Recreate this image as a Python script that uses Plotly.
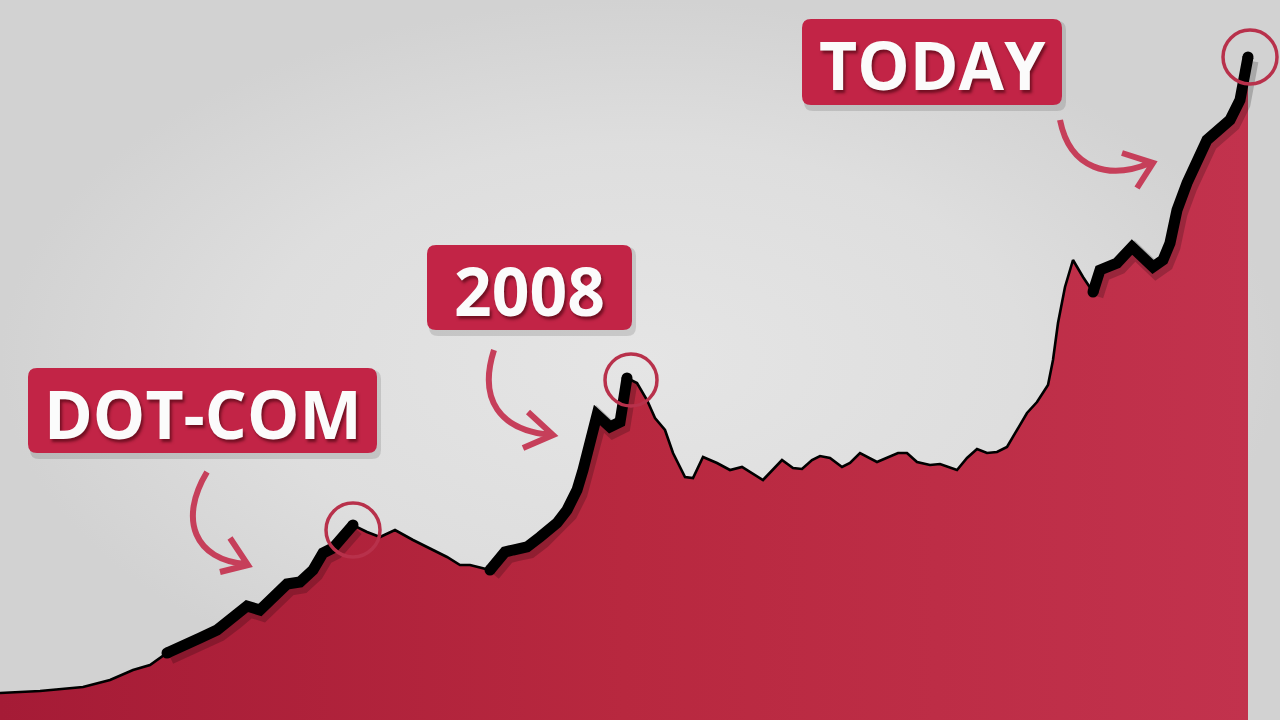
import plotly.graph_objects as go

# ---------------- data ----------------
# time index (horizontal position) and index level
time_idx = [0, 40, 83, 110, 133, 150, 167, 180, 200, 217, 233, 247, 260, 273, 287, 300,
            313, 323, 333, 353, 367, 380, 395, 413, 427, 447, 460, 470, 490, 505, 513,
            527, 540, 557, 567, 577, 583, 590, 597, 610, 620, 627, 637, 647, 655, 665,
            673, 685, 693, 703, 717, 730, 742, 763, 782, 793, 802, 812, 820, 830, 842,
            850, 860, 877, 898, 907, 917, 930, 940, 957, 967, 977, 987, 997, 1007, 1017,
            1027, 1037, 1048, 1053, 1058, 1065, 1073, 1083, 1093, 1100, 1117, 1132, 1153,
            1163, 1170, 1177, 1187, 1207, 1230, 1240, 1248]
index_level = [27, 29, 33, 40, 50, 55, 67, 72, 82, 90, 102, 114, 110, 123, 136, 138,
               150, 167, 172, 195, 188, 183, 190, 180, 173, 163, 155, 155, 150, 168, 170,
               173, 183, 197, 210, 230, 250, 283, 305, 293, 298, 342, 337, 320, 302, 290,
               267, 243, 242, 263, 257, 250, 253, 240, 260, 252, 251, 260, 264, 262, 253,
               257, 267, 258, 267, 267, 258, 255, 256, 250, 262, 271, 267, 268, 273, 290,
               307, 318, 335, 360, 397, 433, 460, 443, 428, 450, 457, 473, 453,
               460, 477, 510, 537, 580, 600, 620, 663]

# run-ups highlighted with a bold line (start, end on the time index)
bubble_runups = [(167, 353), (490, 627), (1093, 1248)]
bubble_labels = ["DOT-COM", "2008", "TODAY"]

# ---------------- styling ----------------
W, H = 1280, 720
BOX = "#c22446"
ARROW = "#c63f5a"
RING = "#b8314b"

fig = go.Figure()

# background (soft vignette)
fig.add_trace(go.Scatter(
    x=[0, W, W, 0, 0], y=[0, 0, H, H, 0], mode="lines", line=dict(width=0),
    fill="toself", fillgradient=dict(type="radial",
                                     colorscale=[[0, "#e5e5e5"], [0.6, "#dedede"], [1, "#d2d2d2"]]),
    hoverinfo="skip"))

# area + thin line
fig.add_trace(go.Scatter(
    x=time_idx, y=index_level, mode="lines",
    line=dict(color="black", width=2.6),
    fill="tozeroy",
    fillgradient=dict(type="horizontal", start=0, stop=1248,
                      colorscale=[[0, "#a51b36"], [0.5, "#b8283f"], [1, "#c2324d"]]),
    hoverinfo="skip"))

# bold highlighted run-ups with soft shadow and rounded ends
for (a, b) in bubble_runups:
    xs = [x for x in time_idx if a <= x <= b]
    ys = [y for x, y in zip(time_idx, index_level) if a <= x <= b]
    fig.add_trace(go.Scatter(x=[x + 3 for x in xs], y=[y - 4 for y in ys], mode="lines",
                             line=dict(color="rgba(0,0,0,0.2)", width=15), hoverinfo="skip"))
    fig.add_trace(go.Scatter(x=xs, y=ys, mode="lines",
                             line=dict(color="black", width=11), hoverinfo="skip"))
    fig.add_trace(go.Scatter(x=[xs[0], xs[-1]], y=[ys[0], ys[-1]], mode="markers",
                             marker=dict(color="black", size=11, line=dict(width=0)),
                             hoverinfo="skip"))


def rrect(x0, y0, x1, y1, r):
    return (f"M {x0+r},{y0} L {x1-r},{y0} Q {x1},{y0} {x1},{y0+r} L {x1},{y1-r} "
            f"Q {x1},{y1} {x1-r},{y1} L {x0+r},{y1} Q {x0},{y1} {x0},{y1-r} "
            f"L {x0},{y0+r} Q {x0},{y0} {x0+r},{y0} Z")


shapes = []
annotations = []

# label boxes (x0, x1, y0, y1)
boxes = [(28, 377, 267, 352), (427, 632, 390, 475), (802, 1062, 615, 701)]
for (x0, x1, y0, y1), text in zip(boxes, bubble_labels):
    shapes.append(dict(type="path", path=rrect(x0 + 2, y0 - 6, x1 + 4, y1 - 2, 9),
                       fillcolor="rgba(0,0,0,0.12)", line=dict(width=0), layer="above"))
    shapes.append(dict(type="path", path=rrect(x0, y0, x1, y1, 9),
                       fillcolor=BOX, line=dict(width=0), layer="above"))
    annotations.append(dict(
        x=(x0 + x1) / 2, y=(y0 + y1) / 2 - 2, text=f"<b>{text}</b>", showarrow=False,
        xanchor="center", yanchor="middle",
        font=dict(family="Open Sans", size=66, color="#fbfbfb",
                  shadow="2px 3px 3px rgba(60,0,10,0.6)")))

# curved arrows
arrows = [
    "M 207,248 C 178,200 195,160 246,156 M 230,182 L 248,155 L 220,148",
    "M 494,370 C 478,320 500,290 550,285 M 528,308 L 553,285 L 523,272",
    "M 1060,600 C 1070,550 1110,540 1150,557 M 1122,567 L 1153,557 L 1137,532",
]
for p in arrows:
    shapes.append(dict(type="path", path=p, line=dict(color=ARROW, width=6), layer="above"))

# rings around peaks (centre x, centre y, radius)
rings = [(353, 190, 27), (631, 340, 26), (1250, 663, 27)]
for cx, cy, r in rings:
    shapes.append(dict(type="circle", x0=cx - r, x1=cx + r, y0=cy - r, y1=cy + r,
                       line=dict(color=RING, width=3.5), layer="above"))

fig.update_layout(
    width=W, height=H, margin=dict(l=0, r=0, t=0, b=0),
    paper_bgcolor="#d8d8d8", plot_bgcolor="#d8d8d8",
    xaxis=dict(range=[0, W], visible=False, fixedrange=True),
    yaxis=dict(range=[0, H], visible=False, fixedrange=True),
    showlegend=False, shapes=shapes, annotations=annotations,
)

fig.write_html("out.html", config=dict(displayModeBar=False),
               post_script="document.body.style.margin='0px';document.body.style.overflow='hidden';")
